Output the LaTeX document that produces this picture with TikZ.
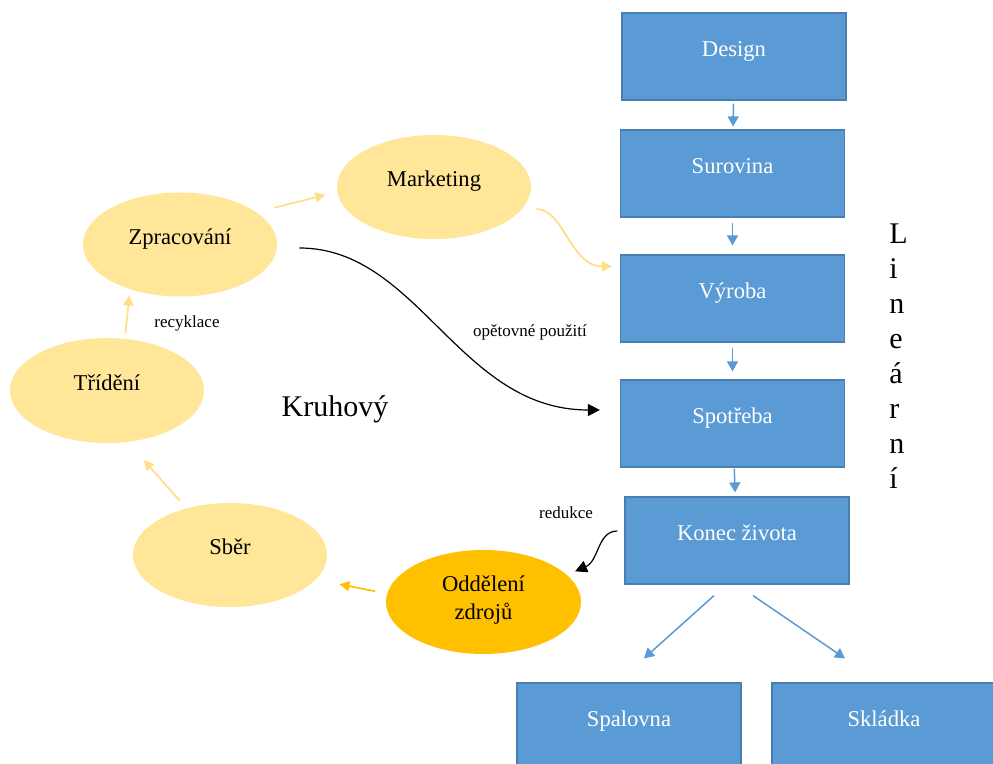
\documentclass[tikz,border=0pt]{standalone}
\usepackage{fontspec}
\setmainfont{Liberation Serif}
\usetikzlibrary{shapes.geometric,arrows.meta,calc}
\definecolor{boxblue}{HTML}{5B9BD5}
\definecolor{boxedge}{HTML}{4A7EB0}
\definecolor{ylight}{HTML}{FFE699}
\definecolor{ydark}{HTML}{FFC000}
\definecolor{yarrowc}{HTML}{FFDF85}
\begin{document}
\begin{tikzpicture}[x=0.5pt,y=-0.5pt,
  stepbox/.style={rectangle, draw=boxedge, line width=0.6pt, fill=boxblue,
    minimum width=112pt, minimum height=43.5pt, text=white, inner sep=0pt,
    font=\fontsize{11.3}{13.5}\selectfont, text height=8pt, text depth=8pt},
  bubble/.style={ellipse, fill=ylight, minimum width=97pt, minimum height=52pt,
    inner sep=0pt, font=\fontsize{11.3}{14}\selectfont},
  oneline/.style={text height=8pt, text depth=8pt},
  barrow/.style={draw=boxblue, line width=0.75pt, -{Triangle[length=5pt,width=5.5pt]}},
  yarrow/.style={draw=yarrowc, line width=0.85pt, -{Triangle[length=5pt,width=5pt]}},
  karrow/.style={draw=black, line width=0.6pt, -{Triangle[length=6pt,width=6pt]}},
  lbl/.style={font=\fontsize{8.5}{10}\selectfont, inner sep=0pt},
  bigtext/.style={font=\fontsize{15}{17.5}\selectfont, inner sep=0pt}]
\useasboundingbox[fill=white] (0,0) rectangle (993,764);

% linear chain
\node[stepbox] (design) at (734,56.5) {Design};
\node[stepbox] (surovina) at (732.5,173.5) {Surovina};
\node[stepbox] (vyroba) at (732.5,298.5) {Výroba};
\node[stepbox] (spotreba) at (732.5,423.5) {Spotřeba};
\node[stepbox] (konec) at (737,540.5) {Konec života};
\node[stepbox] (spalovna) at (629,726.5) {Spalovna};
\node[stepbox] (skladka) at (884,726.5) {Skládka};

% circular part
\node[bubble, oneline] (mkt) at (434,187) {Marketing};
\node[bubble, oneline] (zpr) at (180,244.5) {Zpracování};
\node[bubble, oneline, minimum height=52.5pt] (tri) at (107,390.5) {Třídění};
\node[bubble, oneline] (sber) at (230,555) {Sběr};
\node[bubble, fill=ydark, minimum width=97.5pt, align=center] (odd) at (483.5,602) {Oddělení\\zdrojů\rule[-4.5pt]{0pt}{0pt}};

% labels
\node[lbl] (recy) at (187,323) {recyklace};
\node[lbl] (opet) at (530,332) {opětovné použití};
\node[lbl] (redu) at (566,513) {redukce};
\node[bigtext] (kruh) at (335,409) {Kruhový};
\node[bigtext, align=left, anchor=north west] (lin) at (889,223) {L\\i\\n\\e\\á\\r\\n\\í};

% blue arrows
\draw[barrow, shorten <=1.5pt, shorten >=1.5pt] (design) -- (surovina);
\draw[barrow, shorten <=2.5pt, shorten >=4.5pt] (surovina) -- (vyroba);
\draw[barrow, shorten <=2.5pt, shorten >=4pt] (vyroba) -- (spotreba);
\draw[barrow, shorten <=0.5pt, shorten >=2pt] (spotreba) -- (konec);
\draw[barrow] ([shift={(-23,11)}]konec.south) -- ([shift={(15,-24)}]spalovna.north);
\draw[barrow] ([shift={(16,11)}]konec.south) -- ([shift={(-39,-24)}]skladka.north);

% yellow arrows
\draw[yarrow, shorten <=9pt, shorten >=6pt] (zpr.23) -- (mkt.183);
\draw[yarrow, shorten <=7pt] (mkt.-14) to[out=0,in=180] ([shift={(-8,12)}]vyroba.north west);
\draw[yarrow, shorten <=2.5pt, shorten >=3pt] (tri.71.8) -- (zpr.222.8);
\draw[yarrow, shorten <=5pt, shorten >=12pt] (sber.133.8) -- (tri.-68.2);
\draw[yarrow, draw=ydark, shorten <=6pt, shorten >=12pt] (odd.175.3) -- (sber.-16.5);

% black arrows
\draw[karrow, shorten <=11pt] ([yshift=-1.75pt]zpr.east) to[out=0,in=180] ([shift={(-20,-13.5)}]spotreba.west);
\draw[karrow, shorten >=4.3pt] ([shift={(-7,-9.5)}]konec.west) .. controls +(-20,0) and +(32,-14) .. (odd.18.2);
\end{tikzpicture}
\end{document}
